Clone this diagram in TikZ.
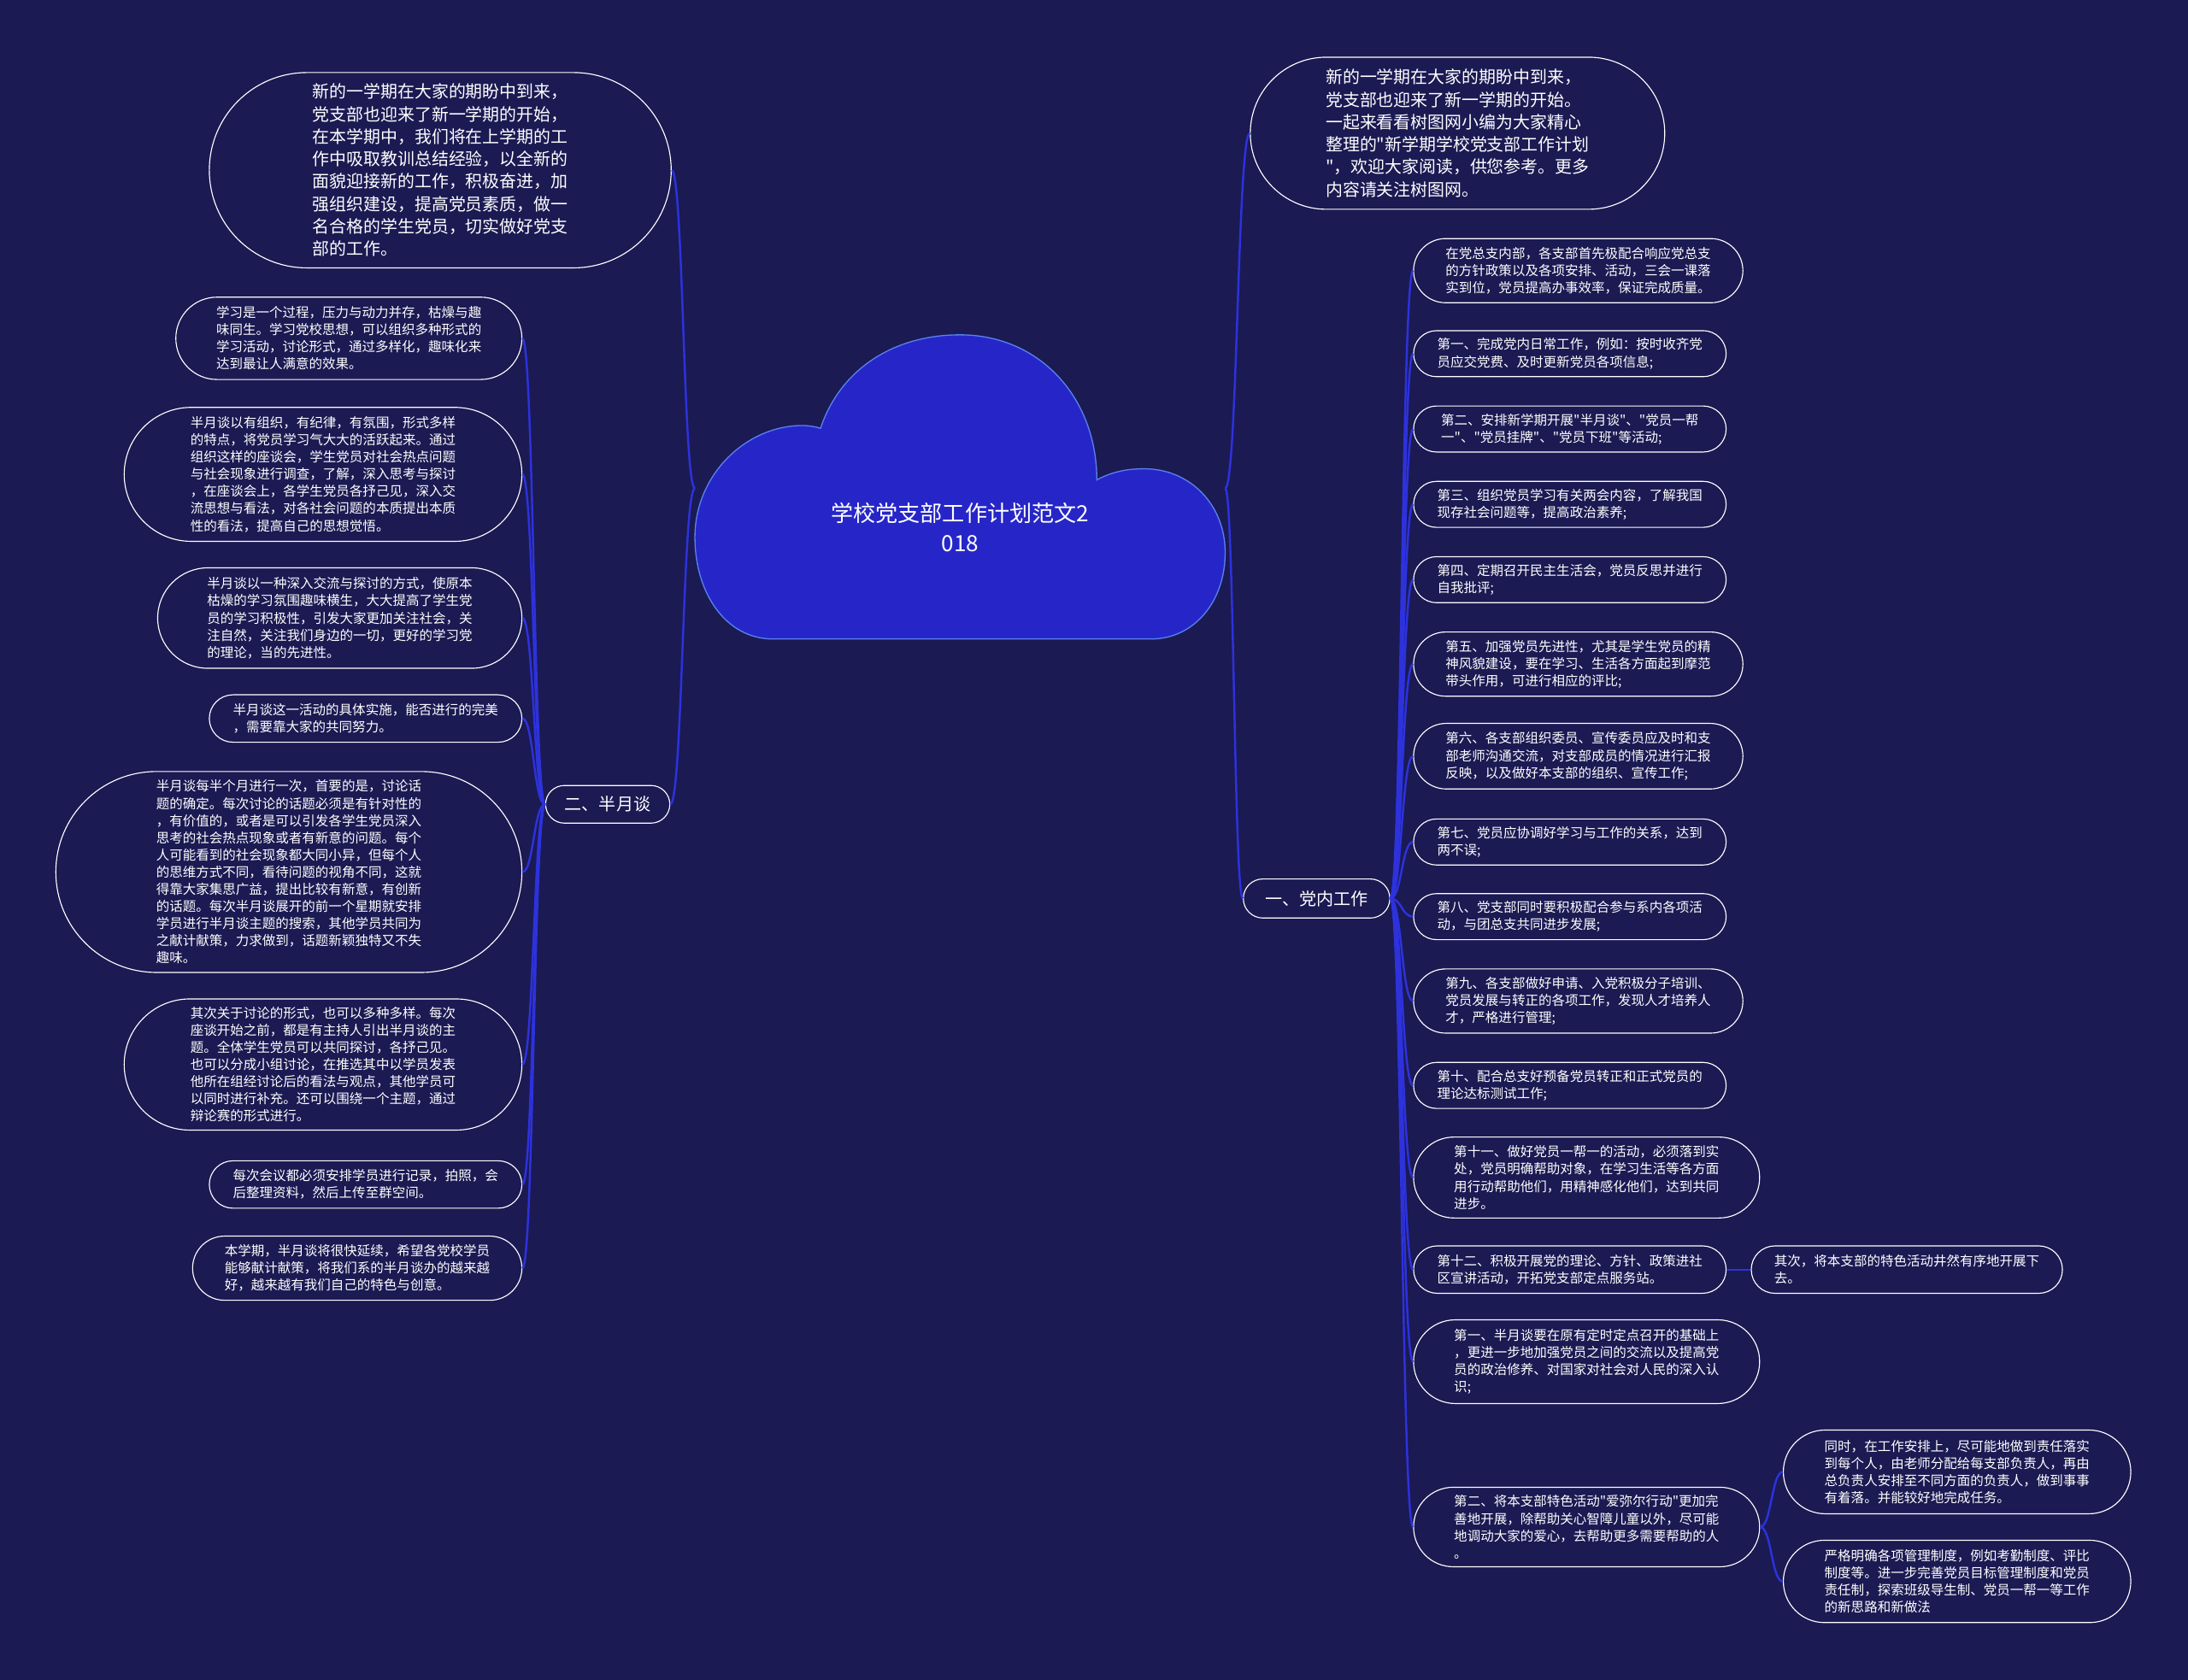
\documentclass[tikz,border=0pt]{standalone}
\usepackage{fontspec}
\newfontfamily\cjk{Noto Sans CJK SC}
\usetikzlibrary{shapes.misc,calc}
\definecolor{bg}{RGB}{27,26,83}
\definecolor{cloudfill}{RGB}{38,38,200}
\definecolor{cloudline}{RGB}{90,130,240}
\definecolor{connc}{RGB}{45,50,220}
\begin{document}
\begin{tikzpicture}[x=1pt,y=-1pt,
  pill/.style={draw=white, line width=0.7pt, rounded rectangle, inner xsep=0pt, inner ysep=0pt,
    text=white, align=left, font=\cjk\fontsize{9.5}{12.3}\selectfont},
  bigpill/.style={pill, font=\cjk\fontsize{12.2}{16.1}\selectfont},
  branch/.style={pill, font=\cjk\fontsize{12.3}{15}\selectfont},
  conn/.style={draw=connc, line width=1.5pt},
  hc/.style={to path={.. controls ($(\tikztostart)!0.5!(\tikztostart-|\tikztotarget)$) and ($(\tikztotarget)!0.5!(\tikztotarget-|\tikztostart)$) .. (\tikztotarget)}}
]
\useasboundingbox (0,0) rectangle (1568,1204);
\fill[bg] (0,0) rectangle (1568,1204);

% cloud
\filldraw[fill=cloudfill, draw=cloudline, line width=0.8pt]
  (554,458) .. controls (520,458) and (498,425) .. (498,385)
  .. controls (498,340) and (535,305) .. (575,305)
  .. controls (580,305) and (585,306) .. (588,307)
  .. controls (602,265) and (640,240) .. (688,240)
  .. controls (745,240) and (786,285) .. (786,344)
  .. controls (797,338) and (808,336) .. (820,336)
  .. controls (853,336) and (878,362) .. (878,396)
  .. controls (878,432) and (855,458) .. (825,458) -- cycle;
\node[text=white, align=center, font=\cjk\fontsize{16}{21}\selectfont] (cloud) at (688,378) {学校党支部工作计划范文2\\018};
\coordinate (cloudW) at (498,350);
\coordinate (cloudE) at (878,350);

% top ovals
\node[bigpill, minimum width=331, minimum height=140] (TL) at (315.5,122) {新的一学期在大家的期盼中到来，\\党支部也迎来了新一学期的开始，\\在本学期中，我们将在上学期的工\\作中吸取教训总结经验，以全新的\\面貌迎接新的工作，积极奋进，加\\强组织建设，提高党员素质，做一\\名合格的学生党员，切实做好党支\\部的工作。};
\node[bigpill, minimum width=297, minimum height=109] (TR) at (1044.5,95.5) {新的一学期在大家的期盼中到来，\\党支部也迎来了新一学期的开始。\\一起来看看树图网小编为大家精心\\整理的"新学期学校党支部工作计划\\"，欢迎大家阅读，供您参考。更多\\内容请关注树图网。};

% branches
\node[branch, minimum width=89, minimum height=27] (B2) at (435.5,576.5) {二、半月谈};
\node[branch, minimum width=105, minimum height=28] (B1) at (943.5,644) {一、党内工作};

% left leaves
\node[pill, minimum width=248, minimum height=59] (L1) at (250,242.5) {学习是一个过程，压力与动力并存，枯燥与趣\\味同生。学习党校思想，可以组织多种形式的\\学习活动，讨论形式，通过多样化，趣味化来\\达到最让人满意的效果。};
\node[pill, minimum width=285, minimum height=96] (L2) at (231.5,340) {半月谈以有组织，有纪律，有氛围，形式多样\\的特点，将党员学习气大大的活跃起来。通过\\组织这样的座谈会，学生党员对社会热点问题\\与社会现象进行调查，了解，深入思考与探讨\\，在座谈会上，各学生党员各抒己见，深入交\\流思想与看法，对各社会问题的本质提出本质\\性的看法，提高自己的思想觉悟。};
\node[pill, minimum width=261, minimum height=72] (L3) at (243.5,443) {半月谈以一种深入交流与探讨的方式，使原本\\枯燥的学习氛围趣味横生，大大提高了学生党\\员的学习积极性，引发大家更加关注社会，关\\注自然，关注我们身边的一切，更好的学习党\\的理论，当的先进性。};
\node[pill, minimum width=224, minimum height=34] (L4) at (262,515) {半月谈这一活动的具体实施，能否进行的完美\\，需要靠大家的共同努力。};
\node[pill, minimum width=334, minimum height=144] (L5) at (207,625) {半月谈每半个月进行一次，首要的是，讨论话\\题的确定。每次讨论的话题必须是有针对性的\\，有价值的，或者是可以引发各学生党员深入\\思考的社会热点现象或者有新意的问题。每个\\人可能看到的社会现象都大同小异，但每个人\\的思维方式不同，看待问题的视角不同，这就\\得靠大家集思广益，提出比较有新意，有创新\\的话题。每次半月谈展开的前一个星期就安排\\学员进行半月谈主题的搜索，其他学员共同为\\之献计献策，力求做到，话题新颖独特又不失\\趣味。};
\node[pill, minimum width=285, minimum height=94] (L6) at (231.5,763) {其次关于讨论的形式，也可以多种多样。每次\\座谈开始之前，都是有主持人引出半月谈的主\\题。全体学生党员可以共同探讨，各抒己见。\\也可以分成小组讨论，在推选其中以学员发表\\他所在组经讨论后的看法与观点，其他学员可\\以同时进行补充。还可以围绕一个主题，通过\\辩论赛的形式进行。};
\node[pill, minimum width=224, minimum height=34] (L7) at (262,849) {每次会议都必须安排学员进行记录，拍照，会\\后整理资料，然后上传至群空间。};
\node[pill, minimum width=236, minimum height=46] (L8) at (256,909) {本学期，半月谈将很快延续，希望各党校学员\\能够献计献策，将我们系的半月谈办的越来越\\好，越来越有我们自己的特色与创意。};

% right leaves
\node[pill, minimum width=236, minimum height=46] (R1) at (1131,194) {在党总支内部，各支部首先极配合响应党总支\\的方针政策以及各项安排、活动，三会一课落\\实到位，党员提高办事效率，保证完成质量。};
\node[pill, minimum width=224, minimum height=33] (R2) at (1125,253.5) {第一、完成党内日常工作，例如：按时收齐党\\员应交党费、及时更新党员各项信息;};
\node[pill, minimum width=224, minimum height=33] (R3) at (1125,307.5) {第二、安排新学期开展"半月谈"、"党员一帮\\一"、"党员挂牌"、"党员下班"等活动;};
\node[pill, minimum width=224, minimum height=33] (R4) at (1125,361.5) {第三、组织党员学习有关两会内容，了解我国\\现存社会问题等，提高政治素养;};
\node[pill, minimum width=224, minimum height=33] (R5) at (1125,415.5) {第四、定期召开民主生活会，党员反思并进行\\自我批评;};
\node[pill, minimum width=236, minimum height=46] (R6) at (1131,476) {第五、加强党员先进性，尤其是学生党员的精\\神风貌建设，要在学习、生活各方面起到摩范\\带头作用，可进行相应的评比;};
\node[pill, minimum width=236, minimum height=47] (R7) at (1131,542) {第六、各支部组织委员、宣传委员应及时和支\\部老师沟通交流，对支部成员的情况进行汇报\\反映，以及做好本支部的组织、宣传工作;};
\node[pill, minimum width=224, minimum height=33] (R8) at (1125,603.5) {第七、党员应协调好学习与工作的关系，达到\\两不误;};
\node[pill, minimum width=224, minimum height=33] (R9) at (1125,657) {第八、党支部同时要积极配合参与系内各项活\\动，与团总支共同进步发展;};
\node[pill, minimum width=236, minimum height=46] (R10) at (1131,717.5) {第九、各支部做好申请、入党积极分子培训、\\党员发展与转正的各项工作，发现人才培养人\\才，严格进行管理;};
\node[pill, minimum width=224, minimum height=33] (R11) at (1125,778) {第十、配合总支好预备党员转正和正式党员的\\理论达标测试工作;};
\node[pill, minimum width=248, minimum height=58] (R12) at (1137,844) {第十一、做好党员一帮一的活动，必须落到实\\处，党员明确帮助对象，在学习生活等各方面\\用行动帮助他们，用精神感化他们，达到共同\\进步。};
\node[pill, minimum width=224, minimum height=34] (R13) at (1125,910) {第十二、积极开展党的理论、方针、政策进社\\区宣讲活动，开拓党支部定点服务站。};
\node[pill, minimum width=223, minimum height=34] (R13a) at (1366.5,910) {其次，将本支部的特色活动井然有序地开展下\\去。};
\node[pill, minimum width=248, minimum height=60] (R14) at (1137,976) {第一、半月谈要在原有定时定点召开的基础上\\，更进一步地加强党员之间的交流以及提高党\\员的政治修养、对国家对社会对人民的深入认\\识;};
\node[pill, minimum width=248, minimum height=57] (R15) at (1137,1094.5) {第二、将本支部特色活动"爱弥尔行动"更加完\\善地开展，除帮助关心智障儿童以外，尽可能\\地调动大家的爱心，去帮助更多需要帮助的人\\。};
\node[pill, minimum width=249, minimum height=60] (R15a) at (1402.5,1055) {同时，在工作安排上，尽可能地做到责任落实\\到每个人，由老师分配给每支部负责人，再由\\总负责人安排至不同方面的负责人，做到事事\\有着落。并能较好地完成任务。};
\node[pill, minimum width=249, minimum height=59] (R15b) at (1402.5,1133.5) {严格明确各项管理制度，例如考勤制度、评比\\制度等。进一步完善党员目标管理制度和党员\\责任制，探索班级导生制、党员一帮一等工作\\的新思路和新做法};

% connectors
\draw[conn] (cloudW) to[hc] (TL.east);
\draw[conn] (cloudW) to[hc] (B2.east);
\draw[conn] (cloudE) to[hc] (TR.west);
\draw[conn] (cloudE) to[hc] (B1.west);
\foreach \n in {L1,L2,L3,L4,L5,L6,L7,L8}
  \draw[conn] (B2.west) to[hc] (\n.east);
\foreach \n in {R1,R2,R3,R4,R5,R6,R7,R8,R9,R10,R11,R12,R13,R14,R15}
  \draw[conn] (B1.east) to[hc] (\n.west);
\draw[conn] (R13.east) -- (R13a.west);
\draw[conn] (R15.east) to[hc] (R15a.west);
\draw[conn] (R15.east) to[hc] (R15b.west);
\end{tikzpicture}
\end{document}
